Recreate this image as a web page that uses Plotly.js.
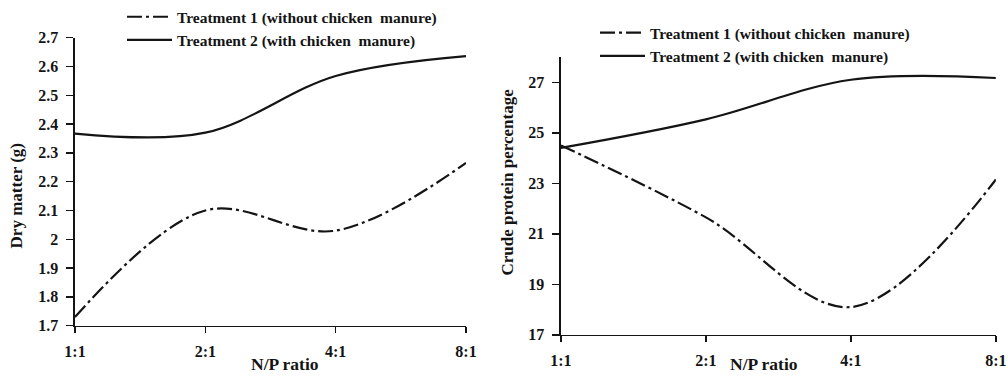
<!DOCTYPE html>
<html><head><meta charset="utf-8">
<script src="https://cdn.plot.ly/plotly-3.0.1.min.js"></script>
<style>html,body{margin:0;padding:0;background:#fff}</style>
</head><body>
<div id="chart" style="width:1008px;height:376px"></div>
<script>
const ratios = ['1:1', '2:1', '4:1', '8:1'];
const dryT1 = [1.73, 2.10, 2.03, 2.265];
const dryT2 = [2.367, 2.37, 2.567, 2.636];
const cpT1 = [24.5, 21.65, 18.1, 23.15];
const cpT2 = [24.4, 25.53, 27.1, 27.17];
const name1 = 'Treatment 1 (without chicken  manure)';
const name2 = 'Treatment 2 (with chicken  manure)';
const dryTicks = [1.7, 1.8, 1.9, 2, 2.1, 2.2, 2.3, 2.4, 2.5, 2.6, 2.7];
const cpTicks = [17, 19, 21, 23, 25, 27];

const ink = '#141414';
const dashT1 = '15px,4px,3px,4px';
const F = 'Liberation Serif, Times New Roman, serif';
const tickFont = {family: F, size: 16, color: ink, weight: 'bold'};
const legFont = {family: F, size: 15.5, color: ink, weight: 'bold'};
const titleFont = {family: F, size: 17, color: ink, weight: 'bold'};
const xTitleFont = {family: F, size: 17.5, color: ink, weight: 'bold'};

const traces = [
  {x: ratios, y: dryT1, name: name1, xaxis: 'x', yaxis: 'y', mode: 'lines',
   line: {color: ink, width: 2.2, dash: dashT1, shape: 'spline', smoothing: 1}, legend: 'legend'},
  {x: ratios, y: dryT2, name: name2, xaxis: 'x', yaxis: 'y', mode: 'lines',
   line: {color: ink, width: 2.2, shape: 'spline', smoothing: 1}, legend: 'legend'},
  {x: ratios, y: cpT1, name: name1, xaxis: 'x2', yaxis: 'y2', mode: 'lines',
   line: {color: ink, width: 2.2, dash: dashT1, shape: 'spline', smoothing: 1}, legend: 'legend2'},
  {x: ratios, y: cpT2, name: name2, xaxis: 'x2', yaxis: 'y2', mode: 'lines',
   line: {color: ink, width: 2.2, shape: 'spline', smoothing: 1}, legend: 'legend2'}
];

function xa(domain, anchor, standoff) {
  return {domain: domain, anchor: anchor, type: 'category', range: [0, 3],
    showgrid: false, zeroline: false, showline: true, linecolor: ink, linewidth: 1.5,
    ticks: 'outside', ticklen: 6, tickwidth: 1.5, tickcolor: ink,
    tickfont: tickFont, ticklabelstandoff: standoff, fixedrange: true};
}
function ya(domain, anchor, range, ticks) {
  return {domain: domain, anchor: anchor, range: range, tickvals: ticks,
    ticktext: ticks.map(String),
    showgrid: false, zeroline: false, showline: true, linecolor: ink, linewidth: 1.5,
    ticks: 'outside', ticklen: 7, tickwidth: 1.5, tickcolor: ink,
    tickfont: tickFont, ticklabelstandoff: 5, fixedrange: true};
}
function overlayX(base, anchor) {
  return {overlaying: base, anchor: anchor, type: 'category', range: [0, 3],
    showgrid: false, zeroline: false, showline: false, showticklabels: false,
    ticks: 'inside', ticklen: 5, tickwidth: 1.5, tickcolor: ink,
    tickvals: ratios, fixedrange: true};
}
function overlayY(base, anchor, range, ticks) {
  return {overlaying: base, anchor: anchor, range: range, tickvals: ticks,
    showgrid: false, zeroline: false, showline: false, showticklabels: false,
    ticks: 'inside', ticklen: 5, tickwidth: 1.5, tickcolor: ink, fixedrange: true};
}

function note(text, px, py, angle, font) {
  return {text: text, xref: 'paper', yref: 'paper', x: px / 1008, y: 1 - py / 376,
    xanchor: 'center', yanchor: 'middle', textangle: angle, showarrow: false, font: font};
}

const layout = {
  width: 1008, height: 376,
  margin: {l: 0, r: 0, t: 0, b: 0},
  paper_bgcolor: '#fff', plot_bgcolor: '#fff',
  showlegend: true,
  xaxis: xa([0.0744, 0.4623], 'y', 5),
  yaxis: ya([0.1356, 0.912], 'x', [1.7, 2.7], dryTicks),
  xaxis2: xa([0.5565, 0.988], 'y2', 4),
  yaxis2: ya([0.1109, 0.8598], 'x2', [17, 28], cpTicks),
  xaxis3: overlayX('x', 'y'),
  yaxis3: overlayY('y', 'x', [1.7, 2.7], dryTicks),
  xaxis4: overlayX('x2', 'y2'),
  yaxis4: overlayY('y2', 'x2', [17, 28], cpTicks),
  legend: {x: 122 / 1008, y: 1.013, xanchor: 'left', yanchor: 'top', bgcolor: 'rgba(0,0,0,0)',
    font: legFont, tracegroupgap: 0, itemwidth: 45},
  legend2: {x: 595 / 1008, y: 0.97, xanchor: 'left', yanchor: 'top', bgcolor: 'rgba(0,0,0,0)',
    font: legFont, tracegroupgap: 0, itemwidth: 45},
  annotations: [
    note('Dry matter (g)', 16, 194, -90, titleFont),
    note('Crude protein percentage', 508, 180, -90, titleFont),
    note('N/P ratio', 285, 364, 0, xTitleFont),
    note('N/P ratio', 764, 364, 0, xTitleFont)
  ]
};

Plotly.newPlot('chart', traces, layout, {displayModeBar: false, staticPlot: true});
</script>
</body></html>
